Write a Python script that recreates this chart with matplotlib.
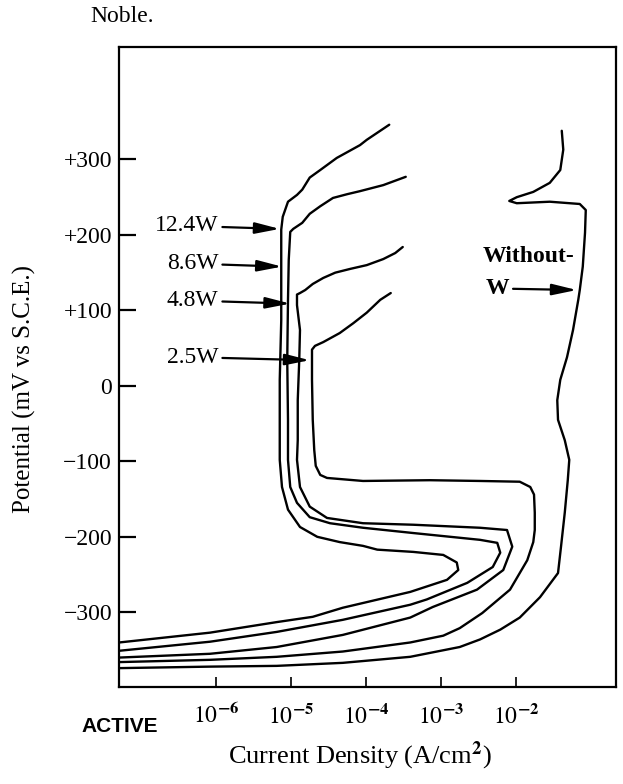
import numpy as np
import matplotlib.pyplot as plt
from matplotlib.ticker import FixedLocator, FixedFormatter, NullLocator

plt.rcParams['font.family'] = ['Liberation Serif', 'DejaVu Serif']
plt.rcParams['mathtext.fontset'] = 'stix'

# log10 current density (A/cm2) and potential (mV vs S.C.E.)
logi_124 = [-3.69, -3.99, -4.08, -4.39, -4.61, -4.75, -4.85, -4.92, -5.04, -5.11, -5.13, -5.13,
            -5.13, -5.15, -5.15, -5.15, -5.12, -5.04, -4.88, -4.65, -4.35, -4.04, -3.85, -3.37,
            -2.97, -2.79, -2.77, -2.92, -3.41, -4.31, -4.71, -5.19, -6.08, -7.29]
e_124 = [346, 326, 319, 302, 286, 276, 260, 253, 244, 224, 207, 167,
         87, 8, -72, -98, -134, -164, -187, -200, -207, -212, -217, -220,
         -224, -234, -244, -257, -273, -294, -306, -313, -327, -340]

logi_86 = [-3.47, -3.77, -4.08, -4.25, -4.44, -4.61, -4.75, -4.85, -4.97, -5.01, -5.03, -5.04,
           -5.05, -5.04, -5.04, -5.01, -4.92, -4.75, -4.48, -4.04, -3.37, -2.48, -2.25, -2.21,
           -2.31, -2.65, -3.19, -3.41, -4.31, -5.19, -6.08, -7.29]
e_86 = [277, 266, 258, 254, 249, 238, 228, 216, 208, 204, 167, 114,
        34, -45, -98, -134, -155, -174, -182, -188, -195, -204, -208, -221,
        -240, -261, -283, -290, -310, -326, -339, -351]

logi_48 = [-3.51, -3.61, -3.77, -3.99, -4.21, -4.41, -4.57, -4.71, -4.81, -4.88, -4.92, -4.92,
           -4.88, -4.89, -4.91, -4.91, -4.92, -4.88, -4.75, -4.52, -4.04, -3.37, -2.48, -2.12,
           -2.05, -2.17, -2.52, -3.11, -3.41, -4.31, -5.19, -6.08, -7.29]
e_48 = [184, 176, 168, 160, 155, 150, 143, 135, 127, 123, 121, 107,
        74, 34, -19, -72, -98, -134, -160, -175, -182, -184, -188, -191,
        -213, -244, -270, -293, -307, -330, -346, -355, -360]

logi_25 = [-3.67, -3.81, -3.99, -4.17, -4.35, -4.57, -4.68, -4.72, -4.72, -4.71, -4.69, -4.67,
           -4.61, -4.52, -4.04, -3.15, -2.48, -1.95, -1.81, -1.76, -1.75, -1.75, -1.77, -1.85,
           -2.08, -2.45, -2.75, -2.97, -3.41, -4.31, -5.19, -6.08, -7.29]
e_25 = [123, 114, 97, 83, 70, 58, 53, 48, 8, -45, -85, -106,
        -118, -122, -126, -125, -126, -127, -134, -144, -168, -191, -207, -231,
        -270, -301, -321, -331, -340, -352, -359, -363, -366]

logi_0 = [-1.39, -1.37, -1.41, -1.55, -1.77, -1.99, -2.09, -1.99, -1.55, -1.15, -1.07, -1.08,
          -1.11, -1.15, -1.17, -1.24, -1.32, -1.41, -1.45, -1.44, -1.35, -1.29, -1.31, -1.35,
          -1.40, -1.44, -1.68, -1.95, -2.21, -2.48, -2.75, -3.41, -4.31, -5.19, -6.08, -7.29]
e_0 = [338, 313, 286, 269, 257, 250, 245, 242, 244, 241, 233, 203,
       158, 127, 114, 74, 38, 8, -19, -45, -72, -98, -125, -168,
       -213, -248, -280, -307, -323, -336, -346, -359, -367, -371, -372, -374]

curves = [(logi_124, e_124), (logi_86, e_86), (logi_48, e_48), (logi_25, e_25), (logi_0, e_0)]

# arrow labels: name, potential of arrow, log current at arrow tip, log current at text end
labels = ['12.4W', '8.6W', '4.8W', '2.5W']
label_e = [208, 158, 109, 34]
label_tip = [-5.15, -5.12, -5.01, -4.75]
label_txt = [-5.97, -5.97, -5.97, -5.97]

ytick_vals = [300, 200, 100, 0, -100, -200, -300]
ytick_labels = ['+300', '+200', '+100', '0', '\u2212100', '\u2212200', '\u2212300']
xtick_vals = [1e-6, 1e-5, 1e-4, 1e-3, 1e-2]
xtick_labels = [r'$10^{\mathbf{-6}}$', r'$10^{\mathbf{-5}}$', r'$10^{\mathbf{-4}}$',
                r'$10^{\mathbf{-3}}$', r'$10^{\mathbf{-2}}$']

fig = plt.figure(figsize=(6.23, 7.84), dpi=100)
ax = fig.add_axes([119/623, 1-687/784, (616-119)/623, (687-47)/784])

for li, e in curves:
    ax.plot(10**np.array(li), e, color='black', lw=1.7, solid_joinstyle='round',
            solid_capstyle='round')

arrow = dict(arrowstyle='-|>,head_length=0.75,head_width=0.17', lw=1.6, color='black',
             mutation_scale=20, shrinkA=1, shrinkB=0)
for name, e, tip, txt in zip(labels, label_e, label_tip, label_txt):
    ax.annotate(name, xy=(10**tip, e), xytext=(10**txt, e + 4), ha='right', va='center',
                fontsize=17, arrowprops=arrow)

ax.text(10**-2.44, 171, 'Without-', ha='left', va='center', fontsize=17, fontweight='bold')
ax.annotate('W', xy=(10**-1.19, 127), xytext=(10**-2.41, 129), ha='left', va='center',
            fontsize=17, fontweight='bold', arrowprops=arrow)

ax.set_xscale('log')
ax.set_xlim(10**-7.293, 10**-0.667)
ax.set_ylim(-399, 449)

ax.xaxis.set_major_locator(FixedLocator(xtick_vals))
ax.xaxis.set_major_formatter(FixedFormatter(xtick_labels))
ax.xaxis.set_minor_locator(NullLocator())
ax.yaxis.set_major_locator(FixedLocator(ytick_vals))
ax.yaxis.set_major_formatter(FixedFormatter(ytick_labels))
ax.tick_params(axis='y', direction='in', length=12, width=1.6, pad=5, labelsize=17)
ax.tick_params(axis='x', direction='in', length=7, width=1.2, pad=12, labelsize=17)
for s in ax.spines.values():
    s.set_linewidth(1.6)

fig.text(90/623, 1-17/784, 'Noble.', ha='left', va='center', fontsize=17)
fig.text(120/623, 1-726/784, 'ACTIVE', ha='center', va='center', fontsize=15,
         fontweight='bold', family='Liberation Sans')
fig.text(24/623, 1-389/784, 'Potential (mV vs S.C.E.)', rotation=90, ha='center',
         va='center', fontsize=18)
fig.text(228/623, 1-756/784, r'Current Density (A/cm$^{\mathbf{2}}$)', ha='left',
         va='center', fontsize=19)

fig.savefig('out.png', dpi=100)
